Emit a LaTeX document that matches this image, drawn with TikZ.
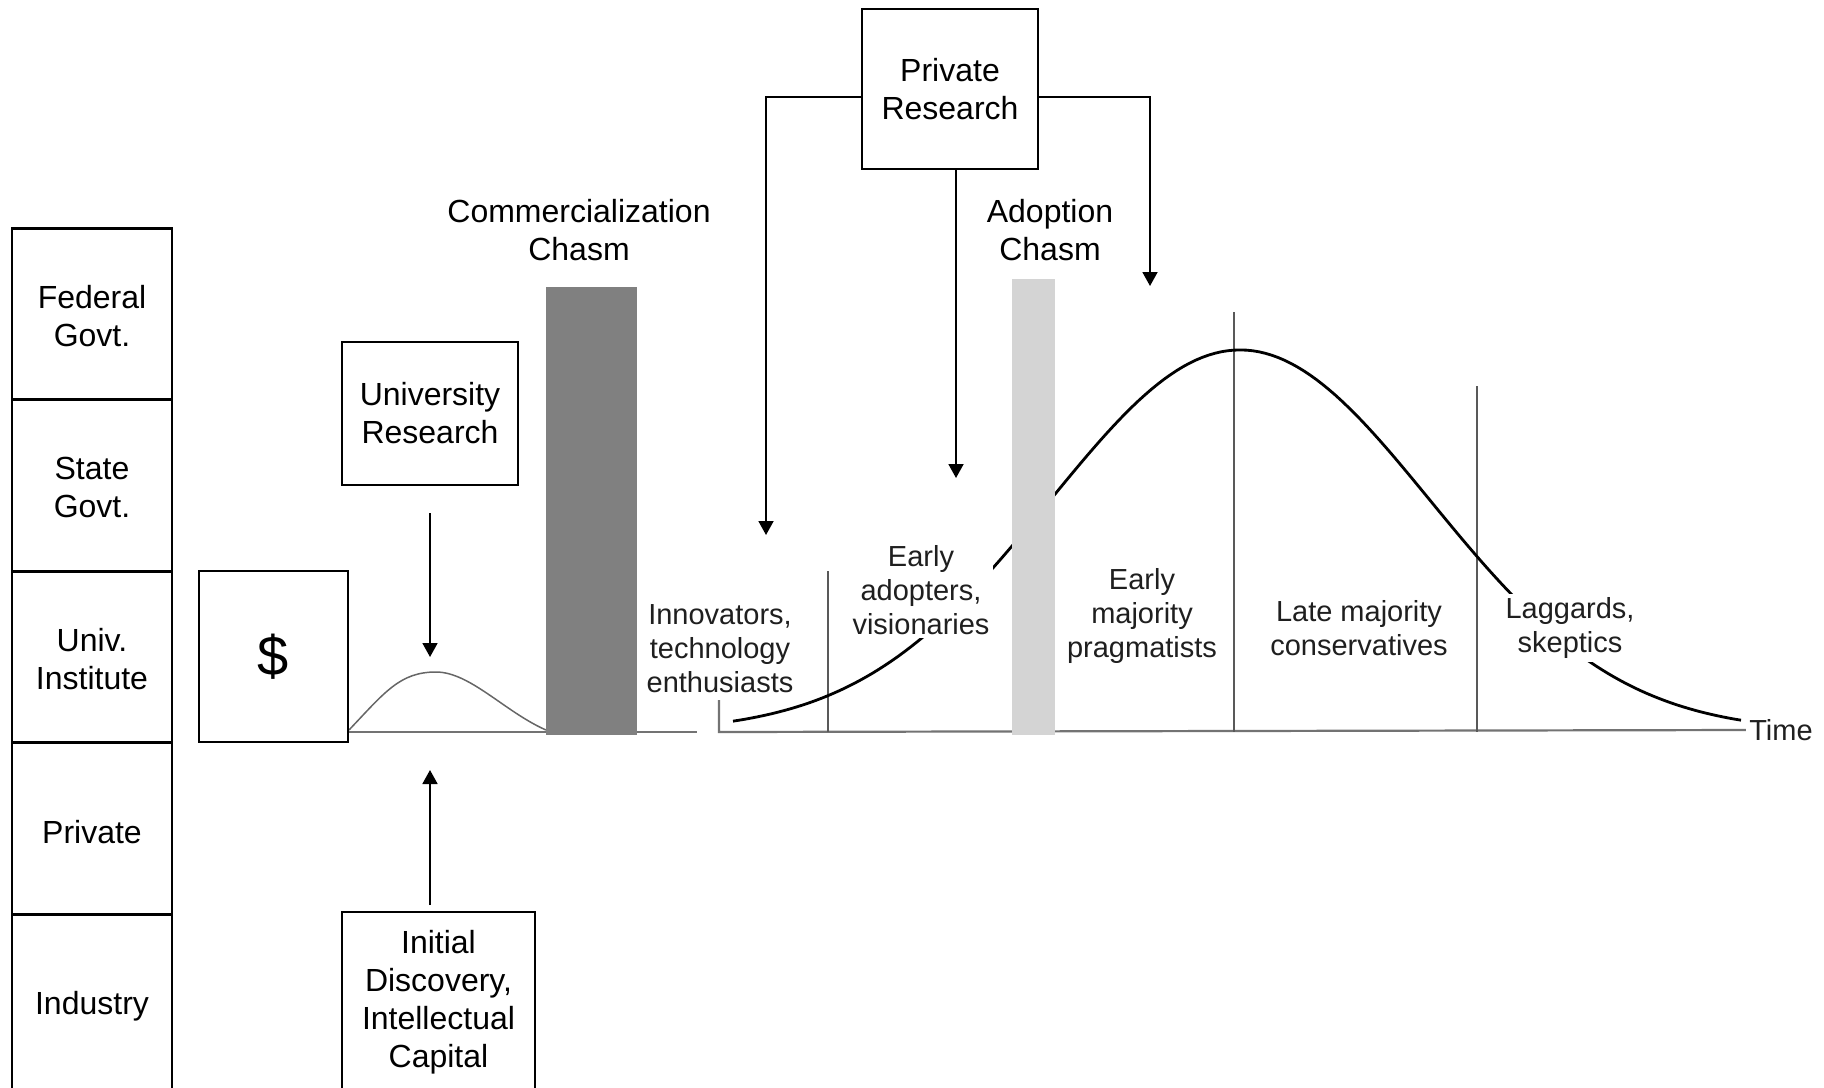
\documentclass[tikz,border=0pt]{standalone}
\usepackage{fontspec}
\setmainfont{Liberation Sans}
\usetikzlibrary{arrows.meta,calc}
\begin{document}
\begin{tikzpicture}[x=0.5pt,y=-0.5pt,
  box/.style={draw,line width=1pt,rectangle,inner sep=0pt,align=center,font=\fontsize{16}{19}\selectfont},
  col/.style={box,line width=1.3pt,minimum width=80pt,minimum height=85.75pt},
  lbl/.style={align=center,font=\fontsize{16}{19}\selectfont},
  chart/.style={align=center,font=\fontsize{14.5}{17}\selectfont,text=black!88,fill=white,inner sep=1.5pt},
  arr/.style={line width=0.9pt,-{Triangle[width=7.5pt,length=7pt]}},
  axisline/.style={draw=black!55,line width=1.1pt},
  divider/.style={draw=black!65,line width=0.7pt},
]
\useasboundingbox (0,0) rectangle (1824,1087);

% axis lines
\node[chart,fill=none] (time) at (1781,730) {Time};
\draw[axisline] (349,732) -- (546,732);
\draw[axisline] (637,732) -- (697,732);
\draw[axisline] (719,700) -- (719,732) -- (time.west);

% small research curve
\draw[black!60,line width=0.75pt] (349,730) .. controls (385,692) and (400,672) .. (436,672)
  .. controls (470,672) and (505,712) .. (546,730);

% dividers
\draw[divider] (828,571) -- (828,732);
\draw[divider] (1234,312) -- (1234,732);
\draw[divider] (1477,386) -- (1477,732);

% adoption curve
\draw[line width=1.4pt] plot[domain=733:1741,samples=160] (\x,{732-382*exp(-0.5*((\x-1240)/190)^2)});

% chart labels
\node[chart] (inn) at (720,649) {Innovators,\\technology\\enthusiasts};
\node[chart] (ea) at (921,590) {Early\\adopters,\\visionaries};
\node[chart] (em) at (1142,615.5) {Early\\majority\\pragmatists};
\node[chart] (lm) at (1359,628) {Late majority\\conservatives};
\node[chart] (lag) at (1570,628) {Laggards,\\skeptics};

% chasm bars
\fill[gray] (546,287) rectangle (637,735);
\fill[black!17] (1012,279) rectangle (1055,735);
\node[lbl] (cc) at (579,230) {Commercialization\\Chasm};
\node[lbl] (ac) at (1050,230) {Adoption\\Chasm};

% left column
\node[col] (fed) at (92,314) {\strut Federal\\Govt.};
\node[col] (state) at (92,485.5) {\strut State\\Govt.};
\node[col] (univ) at (92,657) {\strut Univ.\\Institute};
\node[col] (priv) at (92,828.5) {};
\node (privt) at (92,832) [font=\fontsize{16}{19}\selectfont] {Private};
\node[col,minimum height=89pt] (ind) at (92,1003) {};
\node (indt) at (92,1006) [font=\fontsize{16}{19}\selectfont] {Industry};

% boxes
\node[box,minimum width=74.5pt,minimum height=85.5pt,font=\fontsize{28}{32}\selectfont] (dollar) at (273.5,656.5) {\$};
\node[box,minimum width=88pt,minimum height=71.5pt] (ur) at (430,413.5) {University\\Research};
\node[box,minimum width=96.5pt,minimum height=90pt] (idc) at (438.5,1002) {Initial\\Discovery,\\Intellectual\\Capital};
\node[box,minimum width=88pt,minimum height=80pt] (pr) at (950,89) {Private\\Research};

% arrows
\coordinate (urtip) at (430,657);
\draw[arr] ($(ur.south)+(0,27)$) -- (urtip);
\coordinate (idtail) at (430,905);
\coordinate (idtip) at (430,770);
\draw[arr] (idtail) -- (idtip);

\coordinate (pl) at (766,97);
\coordinate (pltip) at (766,535);
\draw[arr] (pr.west |- pl) -- (pl) -- (pltip);
\coordinate (prr) at (1150,97);
\coordinate (prrtip) at (1150,286);
\draw[arr] (pr.east |- prr) -- (prr) -- (prrtip);
\coordinate (pmtip) at (956,478);
\draw[arr] (pr.south -| pmtip) -- (pmtip);
\end{tikzpicture}
\end{document}
